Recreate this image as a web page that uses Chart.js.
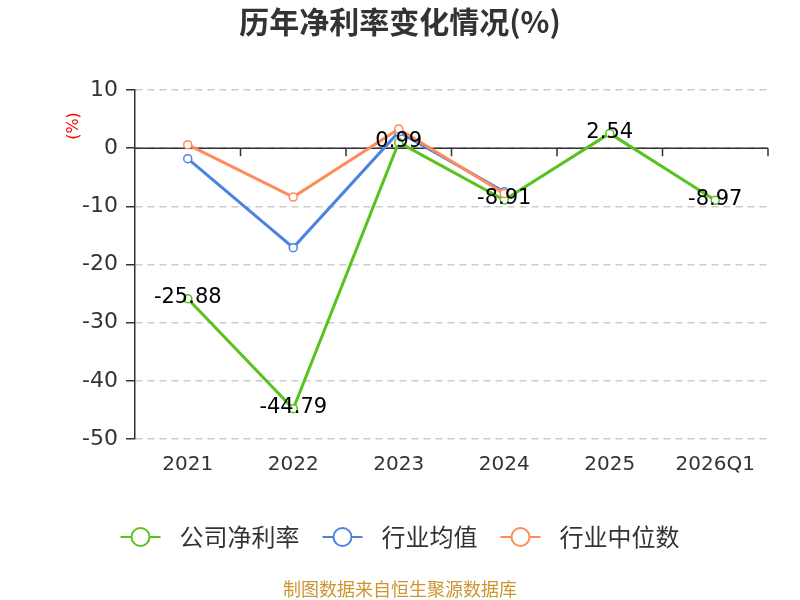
<!DOCTYPE html>
<html>
<head>
<meta charset="utf-8">
<script src="https://cdn.jsdelivr.net/npm/chart.js@4/dist/chart.umd.min.js"></script>
<style>
  html, body { margin: 0; padding: 0; background: #fff; }
  #wrap { width: 800px; height: 600px; position: relative; }
</style>
</head>
<body>
<div id="wrap"><canvas id="rateChart" width="800" height="600"></canvas></div>
<script>
// 历年净利率变化情况
var years = ["2021", "2022", "2023", "2024", "2025", "2026Q1"];
var companyRate = [-25.88, -44.79, 0.99, -8.91, 2.54, -8.97];
var industryAvg = [-1.8, -17.1, 2.8, -7.5, null, null];
var industryMedian = [0.6, -8.4, 3.3, -7.8, null, null];
var yTicks = [10, 0, -10, -20, -30, -40, -50];

var seriesNames = ["公司净利率", "行业均值", "行业中位数"];
var seriesColors = ["#58c21f", "#4e82e0", "#ff8b58"];

var NUM = "'DejaVu Sans', sans-serif";
var CJK = "'Noto Sans CJK SC', 'Noto Sans', sans-serif";

// title, legend, footer, zero axis, data labels
var decorPlugin = {
    id: 'decor',
    beforeDatasetsDraw: function (chart) {
        var ctx = chart.ctx;
        var x = chart.scales.x, y = chart.scales.y;
        var y0 = y.getPixelForValue(0);
        ctx.save();
        ctx.strokeStyle = '#333';
        ctx.lineWidth = 1.5;
        ctx.beginPath();
        ctx.moveTo(x.left, y0);
        ctx.lineTo(x.right, y0);
        for (var i = 0; i < years.length; i++) {
            var bx = (i < years.length - 1) ? (x.getPixelForValue(i) + x.getPixelForValue(i + 1)) / 2 : x.right;
            ctx.moveTo(bx, y0);
            ctx.lineTo(bx, y0 + 8);
        }
        ctx.stroke();
        ctx.restore();
    },
    afterDatasetsDraw: function (chart) {
        var ctx = chart.ctx;
        var meta = chart.getDatasetMeta(0);
        ctx.save();
        ctx.font = '21px ' + NUM;
        ctx.fillStyle = '#000';
        ctx.textAlign = 'center';
        ctx.textBaseline = 'middle';
        meta.data.forEach(function (pt, i) {
            ctx.fillText(companyRate[i].toFixed(2), pt.x, pt.y - 1);
        });
        ctx.restore();
    },
    afterDraw: function (chart) {
        var ctx = chart.ctx;
        ctx.save();
        // title
        ctx.font = 'bold 30px ' + CJK;
        ctx.fillStyle = '#333';
        ctx.textAlign = 'center';
        ctx.textBaseline = 'middle';
        ctx.fillText('历年净利率变化情况(%)', 400, 22);

        // y unit
        ctx.save();
        ctx.translate(74, 126);
        ctx.rotate(-Math.PI / 2);
        ctx.font = '16px ' + NUM;
        ctx.fillStyle = '#f00';
        ctx.fillText('(%)', 0, 0);
        ctx.restore();

        // legend
        ctx.font = '24px ' + CJK;
        var widths = seriesNames.map(function (n) { return ctx.measureText(n).width; });
        var total = widths.reduce(function (a, b) { return a + b; }, 0) + 59 * 3 + 23 * 2;
        var lx = 400 - total / 2, ly = 537;
        ctx.textAlign = 'left';
        for (var i = 0; i < seriesNames.length; i++) {
            ctx.strokeStyle = seriesColors[i];
            ctx.lineWidth = 2;
            ctx.beginPath();
            ctx.moveTo(lx, ly);
            ctx.lineTo(lx + 40, ly);
            ctx.stroke();
            ctx.beginPath();
            ctx.arc(lx + 20, ly, 9, 0, Math.PI * 2);
            ctx.fillStyle = '#fff';
            ctx.fill();
            ctx.stroke();
            ctx.fillStyle = '#333';
            ctx.fillText(seriesNames[i], lx + 59, ly);
            lx += 59 + widths[i] + 23;
        }

        // footer
        ctx.textAlign = 'center';
        ctx.font = '18px ' + CJK;
        ctx.fillStyle = '#cc9531';
        ctx.fillText('制图数据来自恒生聚源数据库', 400, 589);
        ctx.restore();
    }
};

function makeSet(i, data, order) {
    return {
        label: seriesNames[i],
        data: data,
        order: order,
        borderColor: seriesColors[i],
        backgroundColor: '#fff',
        borderWidth: 3,
        pointRadius: 4,
        pointBorderWidth: 1.5,
        pointBackgroundColor: '#fff',
        pointBorderColor: seriesColors[i],
        tension: 0,
        spanGaps: false
    };
}

var ctx = document.getElementById('rateChart');
var rateChart = new Chart(ctx, {
    type: 'line',
    data: {
        labels: years,
        datasets: [
            makeSet(0, companyRate, 3),
            makeSet(1, industryAvg, 2),
            makeSet(2, industryMedian, 1)
        ]
    },
    options: {
        responsive: false,
        animation: false,
        layout: { padding: { top: 90, left: 0, right: 32, bottom: 0 } },
        plugins: {
            legend: { display: false },
            title: { display: false },
            tooltip: { enabled: false }
        },
        scales: {
            x: {
                offset: true,
                grid: { display: false, drawTicks: false },
                border: { display: false },
                ticks: { color: '#333', font: { size: 20, family: NUM }, padding: 14, maxRotation: 0 },
                afterFit: function (scale) { scale.height = 161; }
            },
            y: {
                min: -50,
                max: 10,
                afterBuildTicks: function (scale) {
                    scale.ticks = yTicks.map(function (v) { return { value: v }; });
                },
                grid: {
                    color: '#ccc',
                    lineWidth: 1.5,
                    tickColor: '#333',
                    tickLength: 9,
                    tickBorderDash: [],
                    tickWidth: 1.5
                },
                border: { display: true, color: '#333', width: 1.5, dash: [7, 5] },
                ticks: { color: '#333', font: { size: 22, family: NUM }, padding: 8 },
                afterFit: function (scale) { scale.width = 135; }
            }
        }
    },
    plugins: [decorPlugin]
});
</script>
</body>
</html>
